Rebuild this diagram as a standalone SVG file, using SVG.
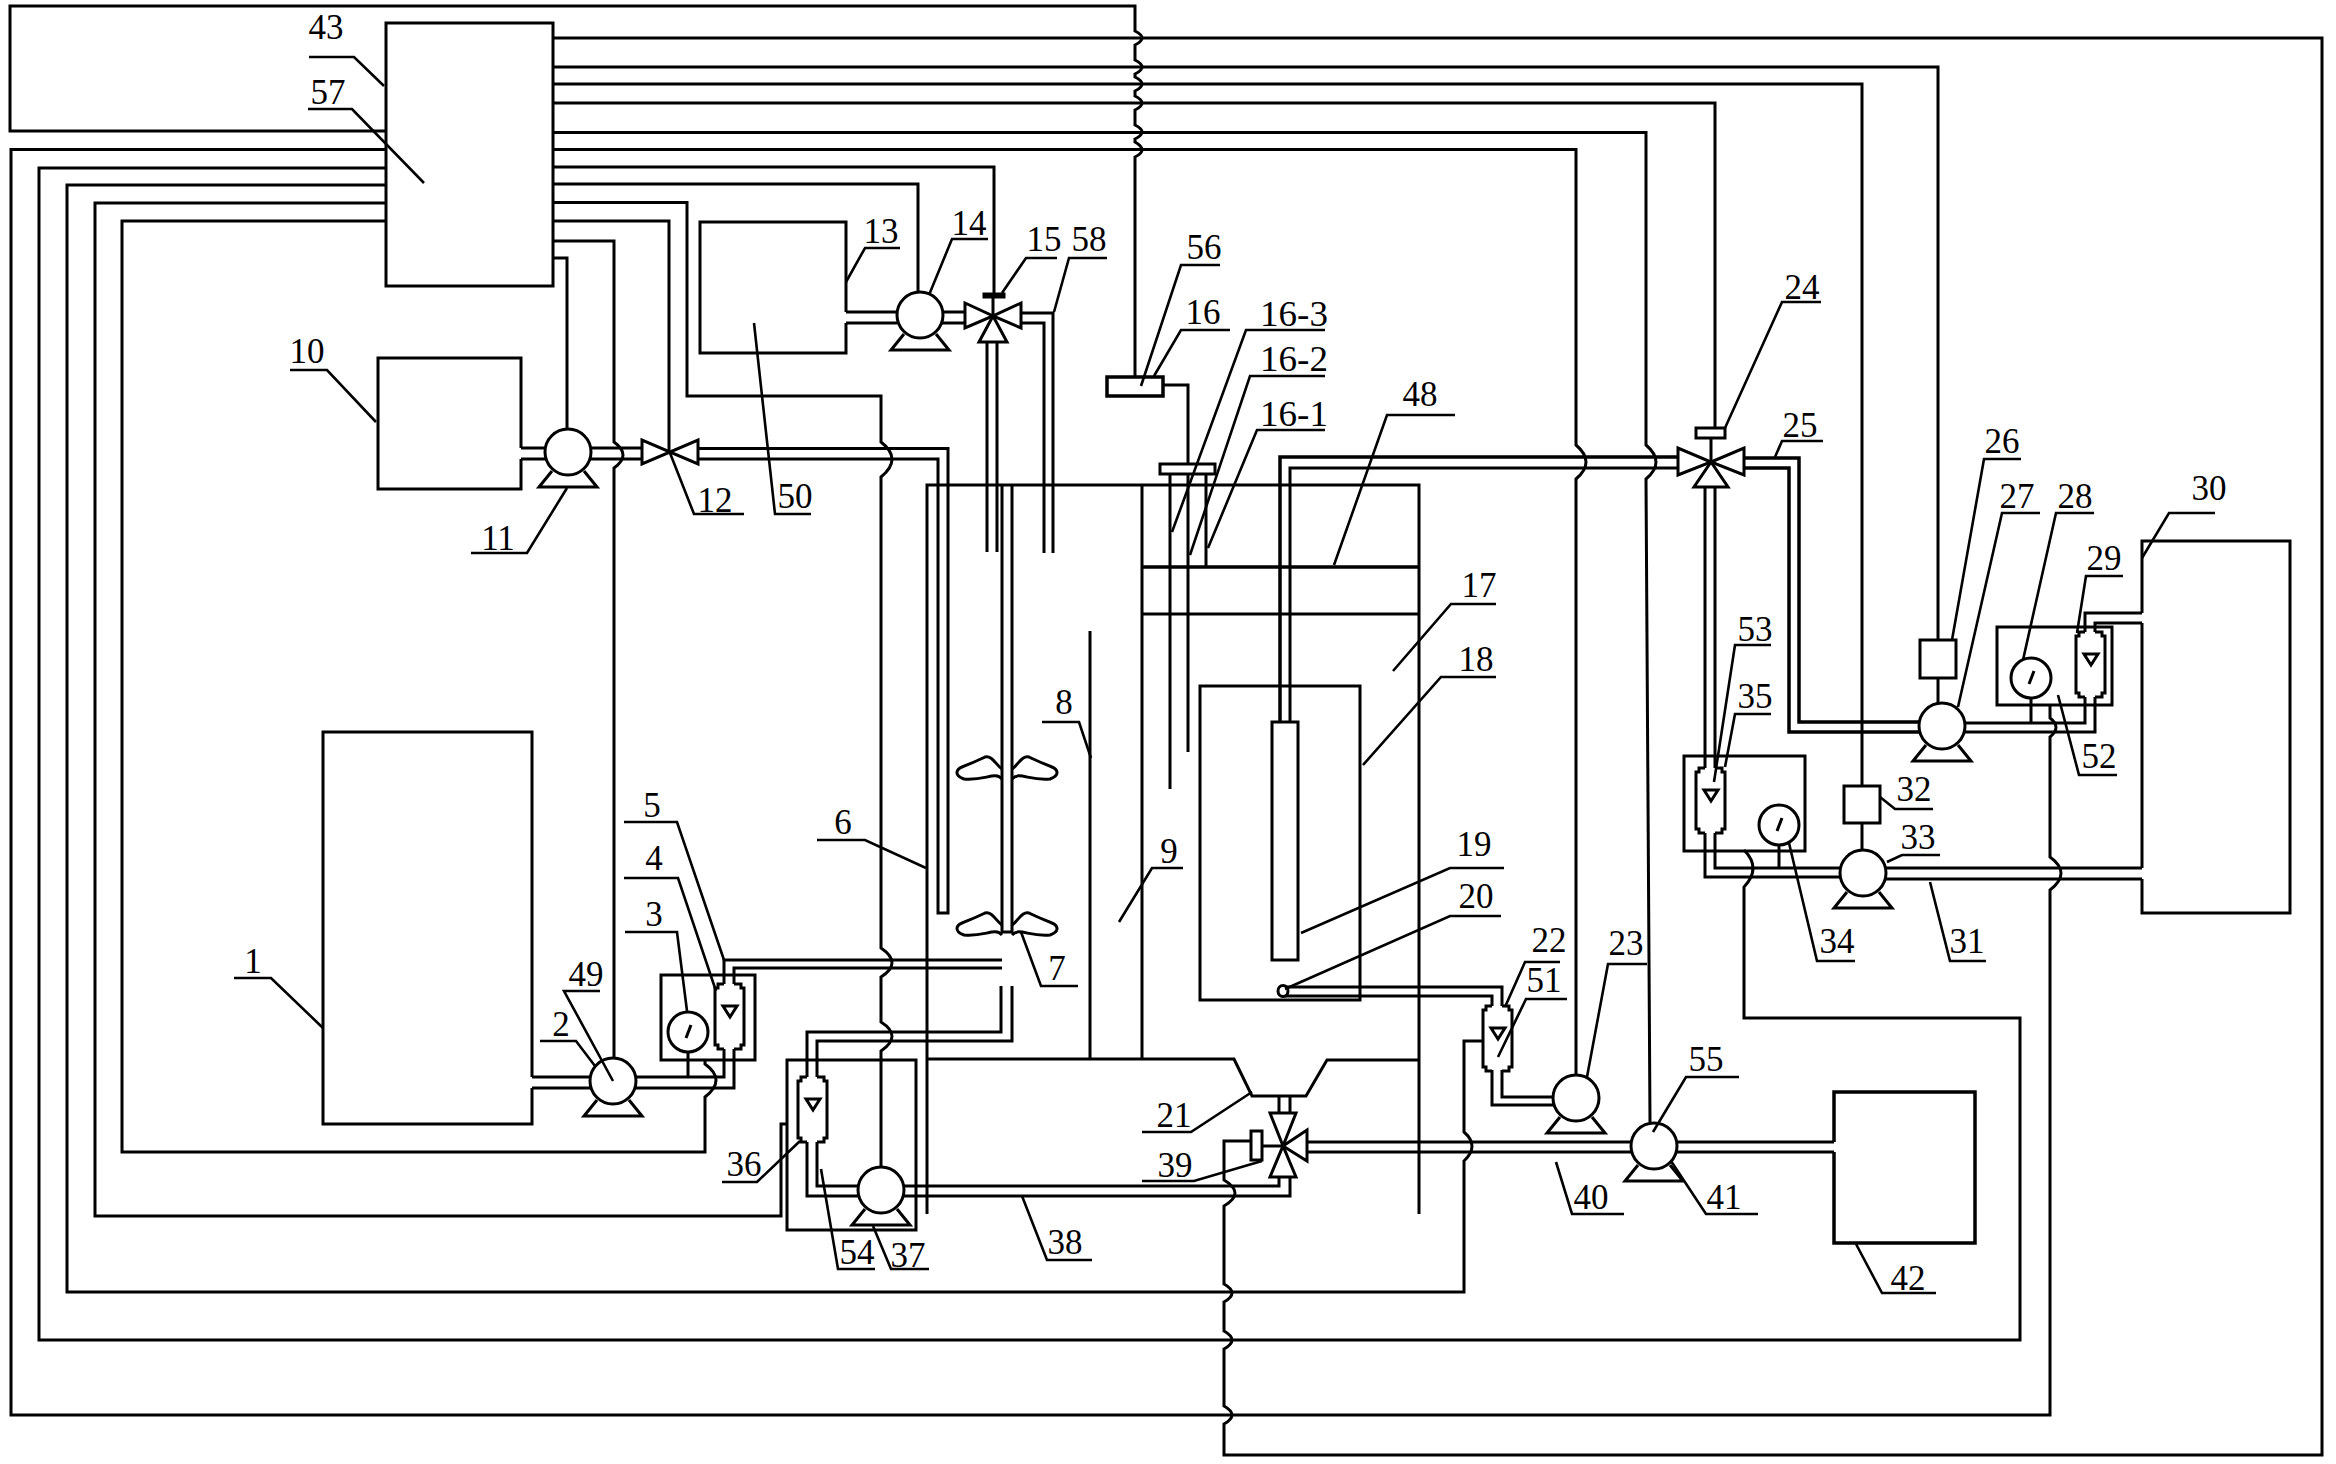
<svg xmlns="http://www.w3.org/2000/svg" xmlns:xlink="http://www.w3.org/1999/xlink" width="2336" height="1464" viewBox="0 0 2336 1464">
<style>
.l{fill:none;stroke:#000;stroke-width:3;stroke-linejoin:miter}
.w{fill:#fff;stroke:#000;stroke-width:3}
.k{fill:#000;stroke:#000;stroke-width:3}
.h{stroke-width:3.500}
.ld{fill:none;stroke:#000;stroke-width:2.600}
text{font-family:"Liberation Serif","Times New Roman",serif;font-size:35px;fill:#000;text-anchor:middle}
</style>
<defs>
<g id="pump">
<path class="l" d="M-16 19 L-29 35 H29 L16 19"/>
<circle class="w" cx="0" cy="0" r="23"/>
</g>
<g id="rotameter">
<path class="l" d="M9 0 H3 V4 H0 V61 H3 V65 H9 M19 0 H26 V4 H29 V61 H26 V65 H19"/>
<polygon class="l" points="8,22 22,22 15,33"/>
</g>
<g id="gauge">
<circle class="w" cx="0" cy="0" r="20"/>
<path class="l" d="M-2 6 L3 -7"/>
</g>
<g id="blades">
<path class="l" d="M-5 22 C-12 14 -22 24 -43 22 C-54 18 -50 12 -45 10 C-38 7 -30 4 -22 0 C-15 -2 -11 8 -5 12"/>
<path class="l" d="M5 22 C12 14 22 24 43 22 C54 18 50 12 45 10 C38 7 30 4 22 0 C15 -2 11 8 5 12"/>
</g>
</defs>
<rect width="2336" height="1464" fill="#fff"/>

<g id="connectors">
<g id="wires">
<path class="l" d="M386 131 H10 V6 H1135 V31 Q1149 38 1135 45 V60 Q1149 67 1135 74 V77 Q1149 84 1135 91 V96 Q1149 103 1135 110 V125 Q1149 132 1135 139 V142 Q1149 150 1135 157 V376"/>
<path class="l" d="M553 38 H2322 V1455 H1224 V1424 Q1240 1415 1224 1406 V1349 Q1240 1340 1224 1331 V1302 Q1240 1293 1224 1284 V1206 Q1246 1193 1224 1180 V1141 H1251"/>
<path class="l" d="M553 67 H1938 V640"/>
<path class="l" d="M553 84 H1862 V786 M1862 823 V850"/>
<path class="l" d="M553 103 H1715 V428"/>
<path class="l" d="M553 132.500 H1646 V445 Q1666 462 1646 479 L1650 1122"/>
<path class="l" d="M553 149.500 H1576 V445 Q1596 462 1576 479 V1077"/>
<path class="l" d="M553 167 H994 V293"/>
<path class="l" d="M553 184 H918 V293"/>
<path class="l" d="M553 202.500 H687 V396 H881 V442 Q903 459 881 477 V948 Q903 963 881 977 V1022 Q903 1036 881 1051 V1166"/>
<path class="l" d="M553 221 H669 V452"/>
<path class="l" d="M553 241 H614 V442 Q632 455 614 468 V1059"/>
<path class="l" d="M553 258 H567 V430"/>
<path class="l" d="M386 149.500 H11 V1415 H2050 V890 Q2072 873 2050 857 V737 Q2062 727 2050 718 V705"/>
<path class="l" d="M386 168 H39 V1340 H2020 V1018 H1744 V887 Q1762 868 1744 850"/>
<path class="l" d="M386 185 H67 V1292 H1464 V1161 Q1480 1146 1464 1132 V1041 H1483"/>
<path class="l" d="M386 203 H95 V1216 H781 V1124 H787"/>
<path class="l" d="M386 221 H122 V1152 H705 V1097 Q727 1080 705 1064 V1060"/>
<path class="l" d="M1163 385 H1188 V464"/>
<path class="l" d="M1262 1146 H1283"/>
<path class="l" d="M1711 438 V462"/>
</g>
<g id="pipes">
<path class="l" d="M532 1077 H591 M532 1088 H592 M635 1077 H724 V1049 M634 1088 H734 V1049"/>
<path class="l" d="M724 984 V960 H1002 M734 984 V968 H1002"/>
<path class="l" d="M521 448 H545 M521 459 H545 M590 448 H642 M590 459 H642"/>
<path class="l" d="M698 448.500 H948 V913 H938 V459 H698"/>
<path class="l" d="M846 312 H897 M846 323 H897 M942 312 H965 M942 323 H965"/>
<path class="l" d="M1021 313 H1053 V553 M1021 323 H1044 V553"/>
<path class="l" d="M987 342 V552 M997 342 V552"/>
<path class="l" d="M807 1077 V1032 H1001 V986 M817 1077 V1041 H1012 V986"/>
<path class="l" d="M807 1142 V1196 H860 M817 1142 V1186 H860"/>
<path class="l" d="M903 1186 H1279 V1177 M903 1196 H1290 V1177"/>
<path class="l" d="M1279 1096 V1113 M1290 1096 V1113"/>
<path class="l" d="M1307 1142 H1632 M1307 1152 H1632 M1677 1142 H1834 M1677 1152 H1834"/>
<path class="l" d="M1553 1097 H1502 V1070 M1553 1105 H1492 V1070"/>
<path class="l" d="M1502 1006 V987 H1282 M1492 1006 V996 H1282"/>
<path class="l h" d="M1280 722 V457 H1678"/>
<path class="l" d="M1290 722 V468 H1678"/>
<path class="l h" d="M1744 458 H1799 V722 H1920"/>
<path class="l h" d="M1744 468 H1789 V732 H1920"/>
<path class="l" d="M1964 723 H2085 V697 M1964 732 H2095 V697"/>
<path class="l" d="M2085 632 V613 H2142 M2095 632 V623 H2142"/>
<path class="l" d="M1705 487 V768 M1715 487 V768"/>
<path class="l" d="M1705 833 V877 H1841 M1715 833 V868 H1841 M1885 868 H2142 M1885 879 H2142"/>
<path class="l" d="M2031 698 V723 M1779 845 V868 M688 1052 V1077"/>
</g>
</g>

<g id="node-57-controller"><rect class="l" x="386" y="23" width="167" height="263"/></g>
<g id="node-1"><path class="l" d="M532 1077 V732 H323 V1124 H532 V1088"/></g>
<g id="node-10"><path class="l" d="M521 448 V358 H378 V489 H521 V459"/></g>
<g id="node-13"><path class="l" d="M846 312 V222 H700 V353 H846 V323"/></g>
<g id="node-42"><path class="l h" d="M1834 1142 V1092 H1975 V1243 H1834 V1152"/></g>
<g id="node-30"><path class="l" d="M2142 613 V541 H2290 V913 H2142 V879 M2142 868 V623"/></g>
<g id="node-box-3"><rect class="l" x="661" y="975" width="94" height="85"/></g>
<g id="node-box-36"><rect class="l" x="787" y="1060" width="129" height="170"/></g>
<g id="node-box-52"><rect class="l" x="1997" y="627" width="115" height="78"/></g>
<g id="node-box-35"><rect class="l" x="1684" y="756" width="121" height="95"/></g>

<g id="node-tank">
<path class="l" d="M927 1214 V485 H1419 V1214"/>
<path class="l" d="M927 1059 H1234 L1252 1096 H1306 L1327 1060 H1419"/>
<path class="l" d="M1090 631 V1059 M1142 485 V1059"/>
<path class="l h" d="M1142 567 H1419"/>
<path class="l" d="M1142 614 H1419"/>
</g>
<g id="node-18"><path class="l" d="M1200 1000 V686 H1360 V1000 Z"/></g>
<g id="node-19"><rect class="l" x="1272" y="722" width="26" height="238"/></g>
<g id="node-20"><ellipse class="w" cx="1283" cy="991" rx="5" ry="5.500"/></g>
<g id="node-7-stirrer">
<path class="l" d="M1002 485 V932 H1012 V485"/>
<use xlink:href="#blades" href="#blades" transform="translate(1007 757)"/>
<use xlink:href="#blades" href="#blades" transform="translate(1007 913)"/>
</g>
<g id="node-16">
<rect class="l" x="1160" y="464" width="55" height="10"/>
<path class="l" d="M1170 474 V789 M1188 474 V752 M1206 474 V567"/>
</g>
<g id="node-56"><rect class="l h" x="1107" y="377" width="56" height="19"/></g>
<g id="node-26"><rect class="l" x="1920" y="640" width="36" height="38"/><path class="l" d="M1938 678 V704"/></g>
<g id="node-32"><rect class="l" x="1844" y="786" width="36" height="37"/></g>

<g id="node-pump-49"><use xlink:href="#pump" href="#pump" transform="translate(613 1081)"/></g>
<g id="node-pump-11"><use xlink:href="#pump" href="#pump" transform="translate(568 452)"/></g>
<g id="node-pump-14"><use xlink:href="#pump" href="#pump" transform="translate(920 315)"/></g>
<g id="node-pump-37"><use xlink:href="#pump" href="#pump" transform="translate(881 1190)"/></g>
<g id="node-pump-23"><use xlink:href="#pump" href="#pump" transform="translate(1576 1098)"/></g>
<g id="node-pump-55"><use xlink:href="#pump" href="#pump" transform="translate(1654 1146)"/></g>
<g id="node-pump-27"><use xlink:href="#pump" href="#pump" transform="translate(1942 726)"/></g>
<g id="node-pump-33"><use xlink:href="#pump" href="#pump" transform="translate(1863 873)"/></g>

<g id="node-valve-12"><polygon class="l" points="642,440 642,464 698,440 698,464"/></g>
<g id="node-valve-15">
<rect class="k" x="984" y="294" width="20" height="3"/>
<path class="l" d="M993 293 V316"/>
<polygon class="l" points="965,303 965,328 993,316"/>
<polygon class="l" points="1021,303 1021,328 993,316"/>
<polygon class="l" points="979,342 1007,342 993,316"/>
</g>
<g id="node-valve-24">
<rect class="l" x="1696" y="428" width="29" height="10"/>
<polygon class="l" points="1678,448 1678,475 1711,462"/>
<polygon class="l" points="1744,448 1744,475 1711,462"/>
<polygon class="l" points="1694,487 1728,487 1711,462"/>
</g>
<g id="node-valve-39">
<rect class="l" x="1251" y="1131" width="11" height="29"/>
<polygon class="l" points="1270,1113 1296,1113 1283,1146"/>
<polygon class="l" points="1270,1177 1296,1177 1283,1146"/>
<polygon class="l" points="1307,1130 1307,1161 1283,1146"/>
</g>

<g id="node-rotameter-4"><use xlink:href="#rotameter" href="#rotameter" transform="translate(715 984)"/></g>
<g id="node-rotameter-36"><use xlink:href="#rotameter" href="#rotameter" transform="translate(798 1077)"/></g>
<g id="node-rotameter-51"><use xlink:href="#rotameter" href="#rotameter" transform="translate(1483 1006)"/></g>
<g id="node-rotameter-53"><use xlink:href="#rotameter" href="#rotameter" transform="translate(1696 768)"/></g>
<g id="node-rotameter-29"><use xlink:href="#rotameter" href="#rotameter" transform="translate(2076 632)"/></g>
<g id="node-gauge-3"><use xlink:href="#gauge" href="#gauge" transform="translate(688 1032)"/></g>
<g id="node-gauge-28"><use xlink:href="#gauge" href="#gauge" transform="translate(2031 678)"/></g>
<g id="node-gauge-34"><use xlink:href="#gauge" href="#gauge" transform="translate(1779 825)"/></g>

<g id="labels">
<g id="leaders">
<polyline class="ld" points="309,57 354,57 384,86"/>
<polyline class="ld" points="308,109 352,109 424,183"/>
<polyline class="ld" points="290,370 327,370 376,422"/>
<polyline class="ld" points="471,553 527,553 567,488"/>
<polyline class="ld" points="670,453 694,514 744,514"/>
<polyline class="ld" points="754,323 775,514 811,514"/>
<polyline class="ld" points="900,248 865,248 846,282"/>
<polyline class="ld" points="988,239 952,239 929,295"/>
<polyline class="ld" points="1057,258 1026,258 1002,293"/>
<polyline class="ld" points="1107,258 1069,258 1054,312"/>
<polyline class="ld" points="1220,265 1181,265 1141,386"/>
<polyline class="ld" points="1230,330 1181,330 1154,376"/>
<polyline class="ld" points="1325,330 1246,330 1172,532"/>
<polyline class="ld" points="1325,376 1250,376 1190,555"/>
<polyline class="ld" points="1325,430 1257,430 1208,548"/>
<polyline class="ld" points="1455,415 1387,415 1334,565"/>
<polyline class="ld" points="1496,604 1451,604 1393,671"/>
<polyline class="ld" points="1496,677 1441,677 1363,765"/>
<polyline class="ld" points="1504,868 1450,868 1301,933"/>
<polyline class="ld" points="1501,916 1450,916 1285,989"/>
<polyline class="ld" points="1042,722 1079,722 1091,758"/>
<polyline class="ld" points="1183,868 1152,868 1119,922"/>
<polyline class="ld" points="817,840 865,840 926,868"/>
<polyline class="ld" points="1021,932 1041,986 1078,986"/>
<polyline class="ld" points="624,822 677,822 724,960"/>
<polyline class="ld" points="624,878 678,878 716,991"/>
<polyline class="ld" points="625,932 677,932 687,1011"/>
<polyline class="ld" points="234,978 271,978 323,1028"/>
<polyline class="ld" points="540,1041 576,1041 595,1066"/>
<polyline class="ld" points="600,991 564,991 613,1081"/>
<polyline class="ld" points="722,1182 757,1182 800,1141"/>
<polyline class="ld" points="875,1269 838,1269 821,1169"/>
<polyline class="ld" points="929,1269 891,1269 873,1226"/>
<polyline class="ld" points="1092,1260 1047,1260 1022,1196"/>
<polyline class="ld" points="1142,1132 1191,1132 1252,1092"/>
<polyline class="ld" points="1142,1181 1194,1181 1262,1161"/>
<polyline class="ld" points="1560,962 1525,962 1505,1007"/>
<polyline class="ld" points="1567,999 1526,999 1498,1057"/>
<polyline class="ld" points="1647,964 1608,964 1587,1077"/>
<polyline class="ld" points="1739,1077 1686,1077 1653,1132"/>
<polyline class="ld" points="1624,1214 1572,1214 1556,1162"/>
<polyline class="ld" points="1758,1214 1706,1214 1671,1161"/>
<polyline class="ld" points="1936,1293 1882,1293 1856,1244"/>
<polyline class="ld" points="1821,302 1782,302 1725,428"/>
<polyline class="ld" points="1823,441 1782,441 1775,457"/>
<polyline class="ld" points="2021,459 1984,459 1952,640"/>
<polyline class="ld" points="2040,513 2002,513 1958,707"/>
<polyline class="ld" points="2094,513 2056,513 2023,660"/>
<polyline class="ld" points="2123,576 2086,576 2077,633"/>
<polyline class="ld" points="2215,513 2169,513 2142,558"/>
<polyline class="ld" points="2117,775 2079,775 2058,695"/>
<polyline class="ld" points="1771,645 1735,645 1714,782"/>
<polyline class="ld" points="1771,714 1735,714 1725,767"/>
<polyline class="ld" points="1933,809 1895,809 1880,797"/>
<polyline class="ld" points="1940,855 1902,855 1887,862"/>
<polyline class="ld" points="1855,961 1817,961 1789,843"/>
<polyline class="ld" points="1986,961 1950,961 1930,882"/>
</g>
<text x="326" y="39">43</text>
<text x="328" y="104">57</text>
<text x="307" y="363">10</text>
<text x="498" y="550">11</text>
<text x="715" y="512">12</text>
<text x="795" y="508">50</text>
<text x="881" y="243">13</text>
<text x="969" y="235">14</text>
<text x="1044" y="251">15</text>
<text x="1089" y="251">58</text>
<text x="1204" y="259">56</text>
<text x="1203" y="324">16</text>
<text x="1294" y="326" textLength="68" lengthAdjust="spacingAndGlyphs">16-3</text>
<text x="1294" y="371" textLength="68" lengthAdjust="spacingAndGlyphs">16-2</text>
<text x="1294" y="426" textLength="68" lengthAdjust="spacingAndGlyphs">16-1</text>
<text x="1420" y="406">48</text>
<text x="1479" y="597">17</text>
<text x="1476" y="671">18</text>
<text x="1474" y="856">19</text>
<text x="1476" y="908">20</text>
<text x="1064" y="714">8</text>
<text x="1169" y="863">9</text>
<text x="843" y="834">6</text>
<text x="1057" y="980">7</text>
<text x="652" y="817">5</text>
<text x="654" y="870">4</text>
<text x="654" y="926">3</text>
<text x="253" y="973">1</text>
<text x="561" y="1036">2</text>
<text x="586" y="986">49</text>
<text x="744" y="1176">36</text>
<text x="857" y="1264">54</text>
<text x="908" y="1267">37</text>
<text x="1065" y="1254">38</text>
<text x="1174" y="1127">21</text>
<text x="1175" y="1177">39</text>
<text x="1549" y="952">22</text>
<text x="1544" y="992">51</text>
<text x="1626" y="955">23</text>
<text x="1706" y="1071">55</text>
<text x="1591" y="1209">40</text>
<text x="1724" y="1209">41</text>
<text x="1908" y="1290">42</text>
<text x="1802" y="299">24</text>
<text x="1800" y="437">25</text>
<text x="2002" y="453">26</text>
<text x="2017" y="508">27</text>
<text x="2075" y="508">28</text>
<text x="2104" y="570">29</text>
<text x="2209" y="500">30</text>
<text x="2099" y="768">52</text>
<text x="1755" y="641">53</text>
<text x="1755" y="708">35</text>
<text x="1914" y="801">32</text>
<text x="1918" y="849">33</text>
<text x="1837" y="953">34</text>
<text x="1967" y="953">31</text>
</g>
</svg>
